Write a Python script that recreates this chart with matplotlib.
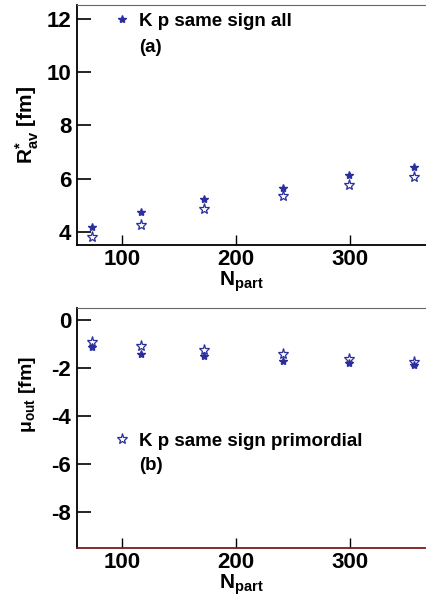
import numpy as np
import matplotlib.pyplot as plt

plt.rcParams['font.family'] = ['Liberation Sans', 'DejaVu Sans']
plt.rcParams['font.weight'] = 'bold'
plt.rcParams['axes.unicode_minus'] = False
plt.rcParams['mathtext.fontset'] = 'custom'
plt.rcParams['mathtext.rm'] = 'Liberation Sans'
plt.rcParams['mathtext.it'] = 'Liberation Sans:bold'
plt.rcParams['mathtext.bf'] = 'Liberation Sans:bold'

# data
npart = [74, 117, 172, 241, 299, 356]
r_av_all = [4.18, 4.73, 5.23, 5.64, 6.14, 6.45]
r_av_prim = [3.80, 4.24, 4.84, 5.33, 5.74, 6.07]
mu_all = [-1.11, -1.41, -1.52, -1.70, -1.79, -1.88]
mu_prim = [-0.93, -1.08, -1.27, -1.43, -1.64, -1.75]

BLUE = '#2b2f9c'
W, H = 426, 596

fig = plt.figure(figsize=(W / 100, H / 100), dpi=100)

ax1 = fig.add_axes([76.7 / W, 1 - 245 / H, (W - 76.7) / W, 240 / H])
ax2 = fig.add_axes([76.7 / W, 1 - 547.7 / H, (W - 76.7) / W, 240 / H])

ax1.plot(npart, r_av_all, ls='none', marker='*', ms=6, color=BLUE, label='K p same sign all')
ax1.plot(npart, r_av_prim, ls='none', marker='*', ms=8, mfc='none', mec=BLUE, mew=0.9)
ax1.set_ylim(3.5, 12.53)
ax1.set_yticks([4, 6, 8, 10, 12])

ax2.plot(npart, mu_all, ls='none', marker='*', ms=6, color=BLUE)
ax2.plot(npart, mu_prim, ls='none', marker='*', ms=8, mfc='none', mec=BLUE, mew=0.9,
         label='K p same sign primordial')
ax2.set_ylim(-9.5, 0.51)
ax2.set_yticks([0, -2, -4, -6, -8])

for ax in (ax1, ax2):
    ax.set_xlim(60.6, 366.5)
    ax.set_xticks([100, 200, 300])
    ax.spines['right'].set_visible(False)
    ax.spines['top'].set_color('#666666')
    ax.spines['left'].set_linewidth(1.3)
    ax.spines['bottom'].set_linewidth(1.3)
    ax.tick_params(axis='y', direction='in', length=10, width=1.2, labelsize=16, pad=4)
    ax.tick_params(axis='x', direction='in', length=7, width=1.0, labelsize=16, pad=3)
    for lab in ax.get_xticklabels() + ax.get_yticklabels():
        lab.set_fontweight('bold')
ax2.spines['bottom'].set_color('#7a1e1e')

ax1.legend(loc='upper left', bbox_to_anchor=(0.08, 1.0), frameon=False, fontsize=13.5,
           handlelength=1.0, handletextpad=0.45, borderaxespad=0)
ax1.text(139 / W, 1 - 47 / H, '(a)', transform=fig.transFigure, fontsize=13.5,
         fontweight='bold', va='center', ha='left')

ax2.legend(loc='upper left', bbox_to_anchor=(0.08, 0.51), frameon=False, fontsize=13.5,
           handlelength=1.0, handletextpad=0.45, borderaxespad=0)
ax2.text(139 / W, 1 - 466 / H, '(b)', transform=fig.transFigure, fontsize=13.5,
         fontweight='bold', va='center', ha='left')

fig.text(241 / W, 1 - 282 / H, r'$\mathbf{N_{part}}$', fontsize=15, ha='center', va='center')
fig.text(241 / W, 1 - 585 / H, r'$\mathbf{N_{part}}$', fontsize=15, ha='center', va='center')
fig.text(27 / W, 1 - 125 / H, r'$\mathbf{R^{*}_{av}}$ [fm]', fontsize=15, rotation=90,
         ha='center', va='center', fontweight='bold')
fig.text(27 / W, 1 - 395 / H, r'$\mathrm{\mu}_{\mathbf{out}}$ [fm]', fontsize=14, rotation=90,
         ha='center', va='center', fontweight='bold')

fig.savefig('out.png', dpi=100)
